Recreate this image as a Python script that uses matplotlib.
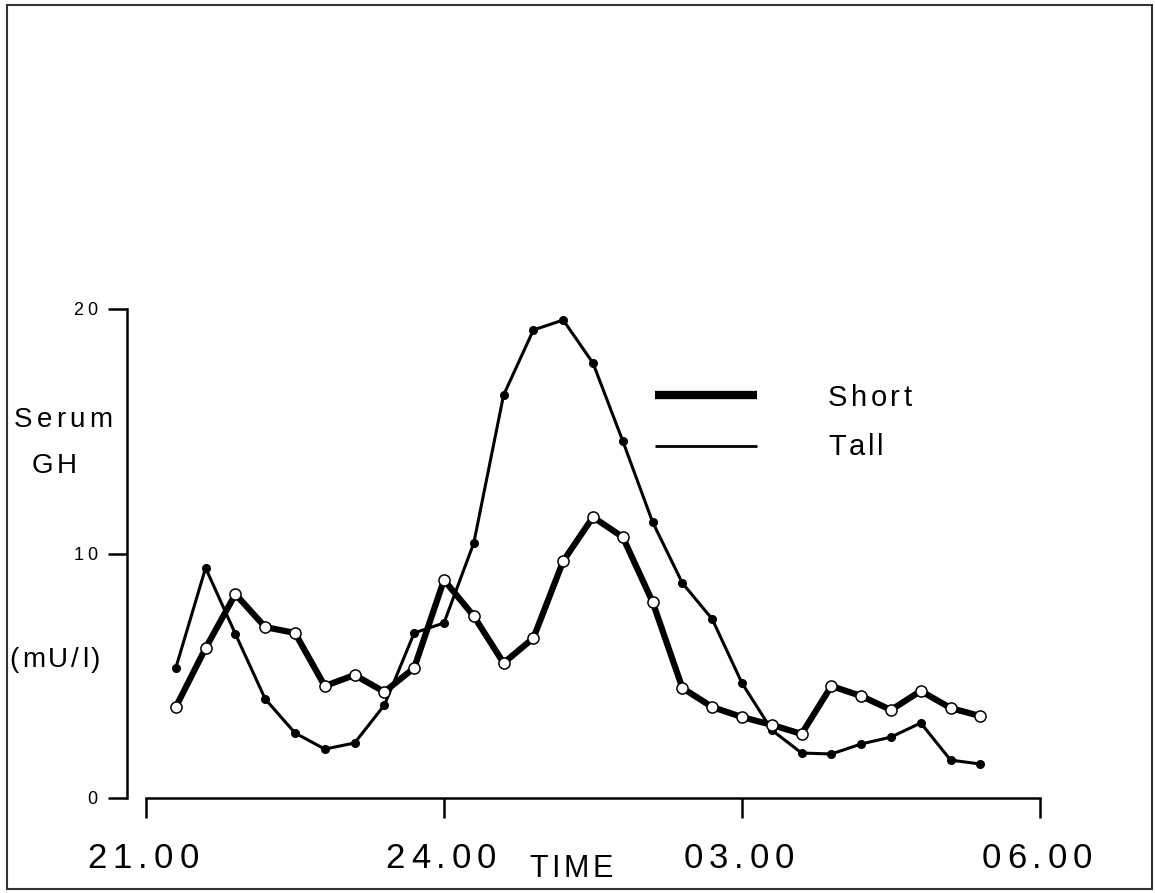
import matplotlib
matplotlib.use("Agg")
import matplotlib.pyplot as plt
from matplotlib.transforms import IdentityTransform
from matplotlib.lines import Line2D
from matplotlib.patches import Rectangle
from matplotlib import font_manager, ft2font

# ---------------- data ----------------
# sampling times, hours after 21.00
times_h = [0.3, 0.6, 0.9, 1.2, 1.5, 1.8, 2.1, 2.4, 2.7, 3.0, 3.3, 3.6, 3.9, 4.2,
           4.5, 4.8, 5.1, 5.4, 5.7, 6.0, 6.3, 6.6, 6.9, 7.2, 7.5, 7.8, 8.1, 8.4]
short_gh = [3.72, 6.13, 8.34, 6.99, 6.75, 4.58, 5.03, 4.34, 5.32, 8.92, 7.44, 5.52,
            6.54, 9.69, 11.49, 10.67, 8.02, 4.50, 3.72, 3.31, 2.99, 2.62, 4.58, 4.17,
            3.60, 4.38, 3.68, 3.35]
tall_gh = [5.32, 9.41, 6.71, 4.05, 2.66, 2.00, 2.25, 3.80, 6.75, 7.16, 10.43, 16.48,
           19.14, 19.55, 17.79, 14.60, 11.29, 8.79, 7.32, 4.70, 2.78, 1.84, 1.80, 2.21,
           2.49, 3.07, 1.55, 1.39]
x_ticks = [0, 3, 6, 9]
x_tick_labels = ["21.00", "24.00", "03.00", "06.00"]
y_ticks = [0, 10, 20]
y_tick_labels = ["0", "10", "20"]
series_names = ["Short", "Tall"]

W, H = 1155, 893
FAM = "Liberation Sans"
fig = plt.figure(figsize=(W / 100, H / 100), dpi=100)
fig.patch.set_facecolor("white")

ax = fig.add_axes([127 / W, 95 / H, (1050 - 127) / W, 489 / H])
ax.set_ylim(0, 20)
ax.set_xlim(-19 / 99.33, (1050 - 146) / 99.33)
ax.patch.set_alpha(0)
for s in ["top", "right"]:
    ax.spines[s].set_visible(False)
ax.spines["left"].set_bounds(0, 20)
ax.spines["bottom"].set_bounds(0, 9)
for s in ["left", "bottom"]:
    ax.spines[s].set_linewidth(1.8)
ax.set_xticks(x_ticks)
ax.set_yticks(y_ticks)
ax.tick_params(axis="y", direction="out", length=13.5, width=1.8,
               labelleft=False)
ax.tick_params(axis="x", direction="out", length=14.5, width=1.8,
               labelbottom=False)

ax.plot(times_h, tall_gh, color="black", lw=2.2, marker="o", markersize=5.5,
        markerfacecolor="black", markeredgecolor="black", clip_on=False, zorder=3)
ax.plot(times_h, short_gh, color="black", lw=4.5, marker="o", markersize=8,
        markerfacecolor="white", markeredgecolor="black", markeredgewidth=1.1,
        clip_on=False, zorder=4)

# ---------------- text helpers ----------------
_font_path = font_manager.findfont(font_manager.FontProperties(family=FAM))


def advances(s, size):
    f = ft2font.FT2Font(_font_path)
    f.set_size(size, 100)
    return [f.load_char(ord(c)).linearHoriAdvance / 65536.0 for c in s]


def spaced(x, y, s, size, track, ha="center"):
    """x, y in pixels from top-left; y is the baseline."""
    adv = advances(s, size)
    total = sum(adv) + track * (len(s) - 1)
    if ha == "center":
        pen = x - total / 2
    elif ha == "right":
        pen = x - total
    else:
        pen = x
    for c, a in zip(s, adv):
        fig.text(pen + a / 2, H - y, c, fontsize=size, family=FAM,
                 transform=IdentityTransform(), ha="center", va="baseline",
                 color="black")
        pen += a + track


def to_px(xd, yd):
    px, py = ax.transData.transform((xd, yd))
    return px, H - py


# y tick labels
for v, lab in zip(y_ticks, y_tick_labels):
    _, py = to_px(0, v)
    spaced(97, py + 6, lab, 13, 3.5, ha="right")

# x tick labels
for v, lab in zip(x_ticks, x_tick_labels):
    px, _ = to_px(v, 0)
    spaced(px - 3, 868, lab, 25, 6)

# axis titles
spaced(63, 427, "Serum", 20, 4)
spaced(54, 473, "GH", 20, 3)
spaced(55, 667, "(mU/l)", 20, 3)
spaced(571, 877, "TIME", 22, 3.5)

# legend
fig.add_artist(Line2D([655, 757], [H - 395, H - 395], color="black", lw=6,
                      transform=IdentityTransform(), solid_capstyle="butt"))
fig.add_artist(Line2D([655, 757], [H - 446, H - 446], color="black", lw=2,
                      transform=IdentityTransform(), solid_capstyle="butt"))
spaced(828, 406, series_names[0], 21, 3.5, ha="left")
spaced(828, 455, series_names[1], 21, 3.0, ha="left")

# outer frame
fig.add_artist(Rectangle((7, H - 889), 1145, 884, fill=False, lw=1.5,
                         edgecolor="#333333", transform=IdentityTransform()))

fig.savefig("out.png", dpi=100)
